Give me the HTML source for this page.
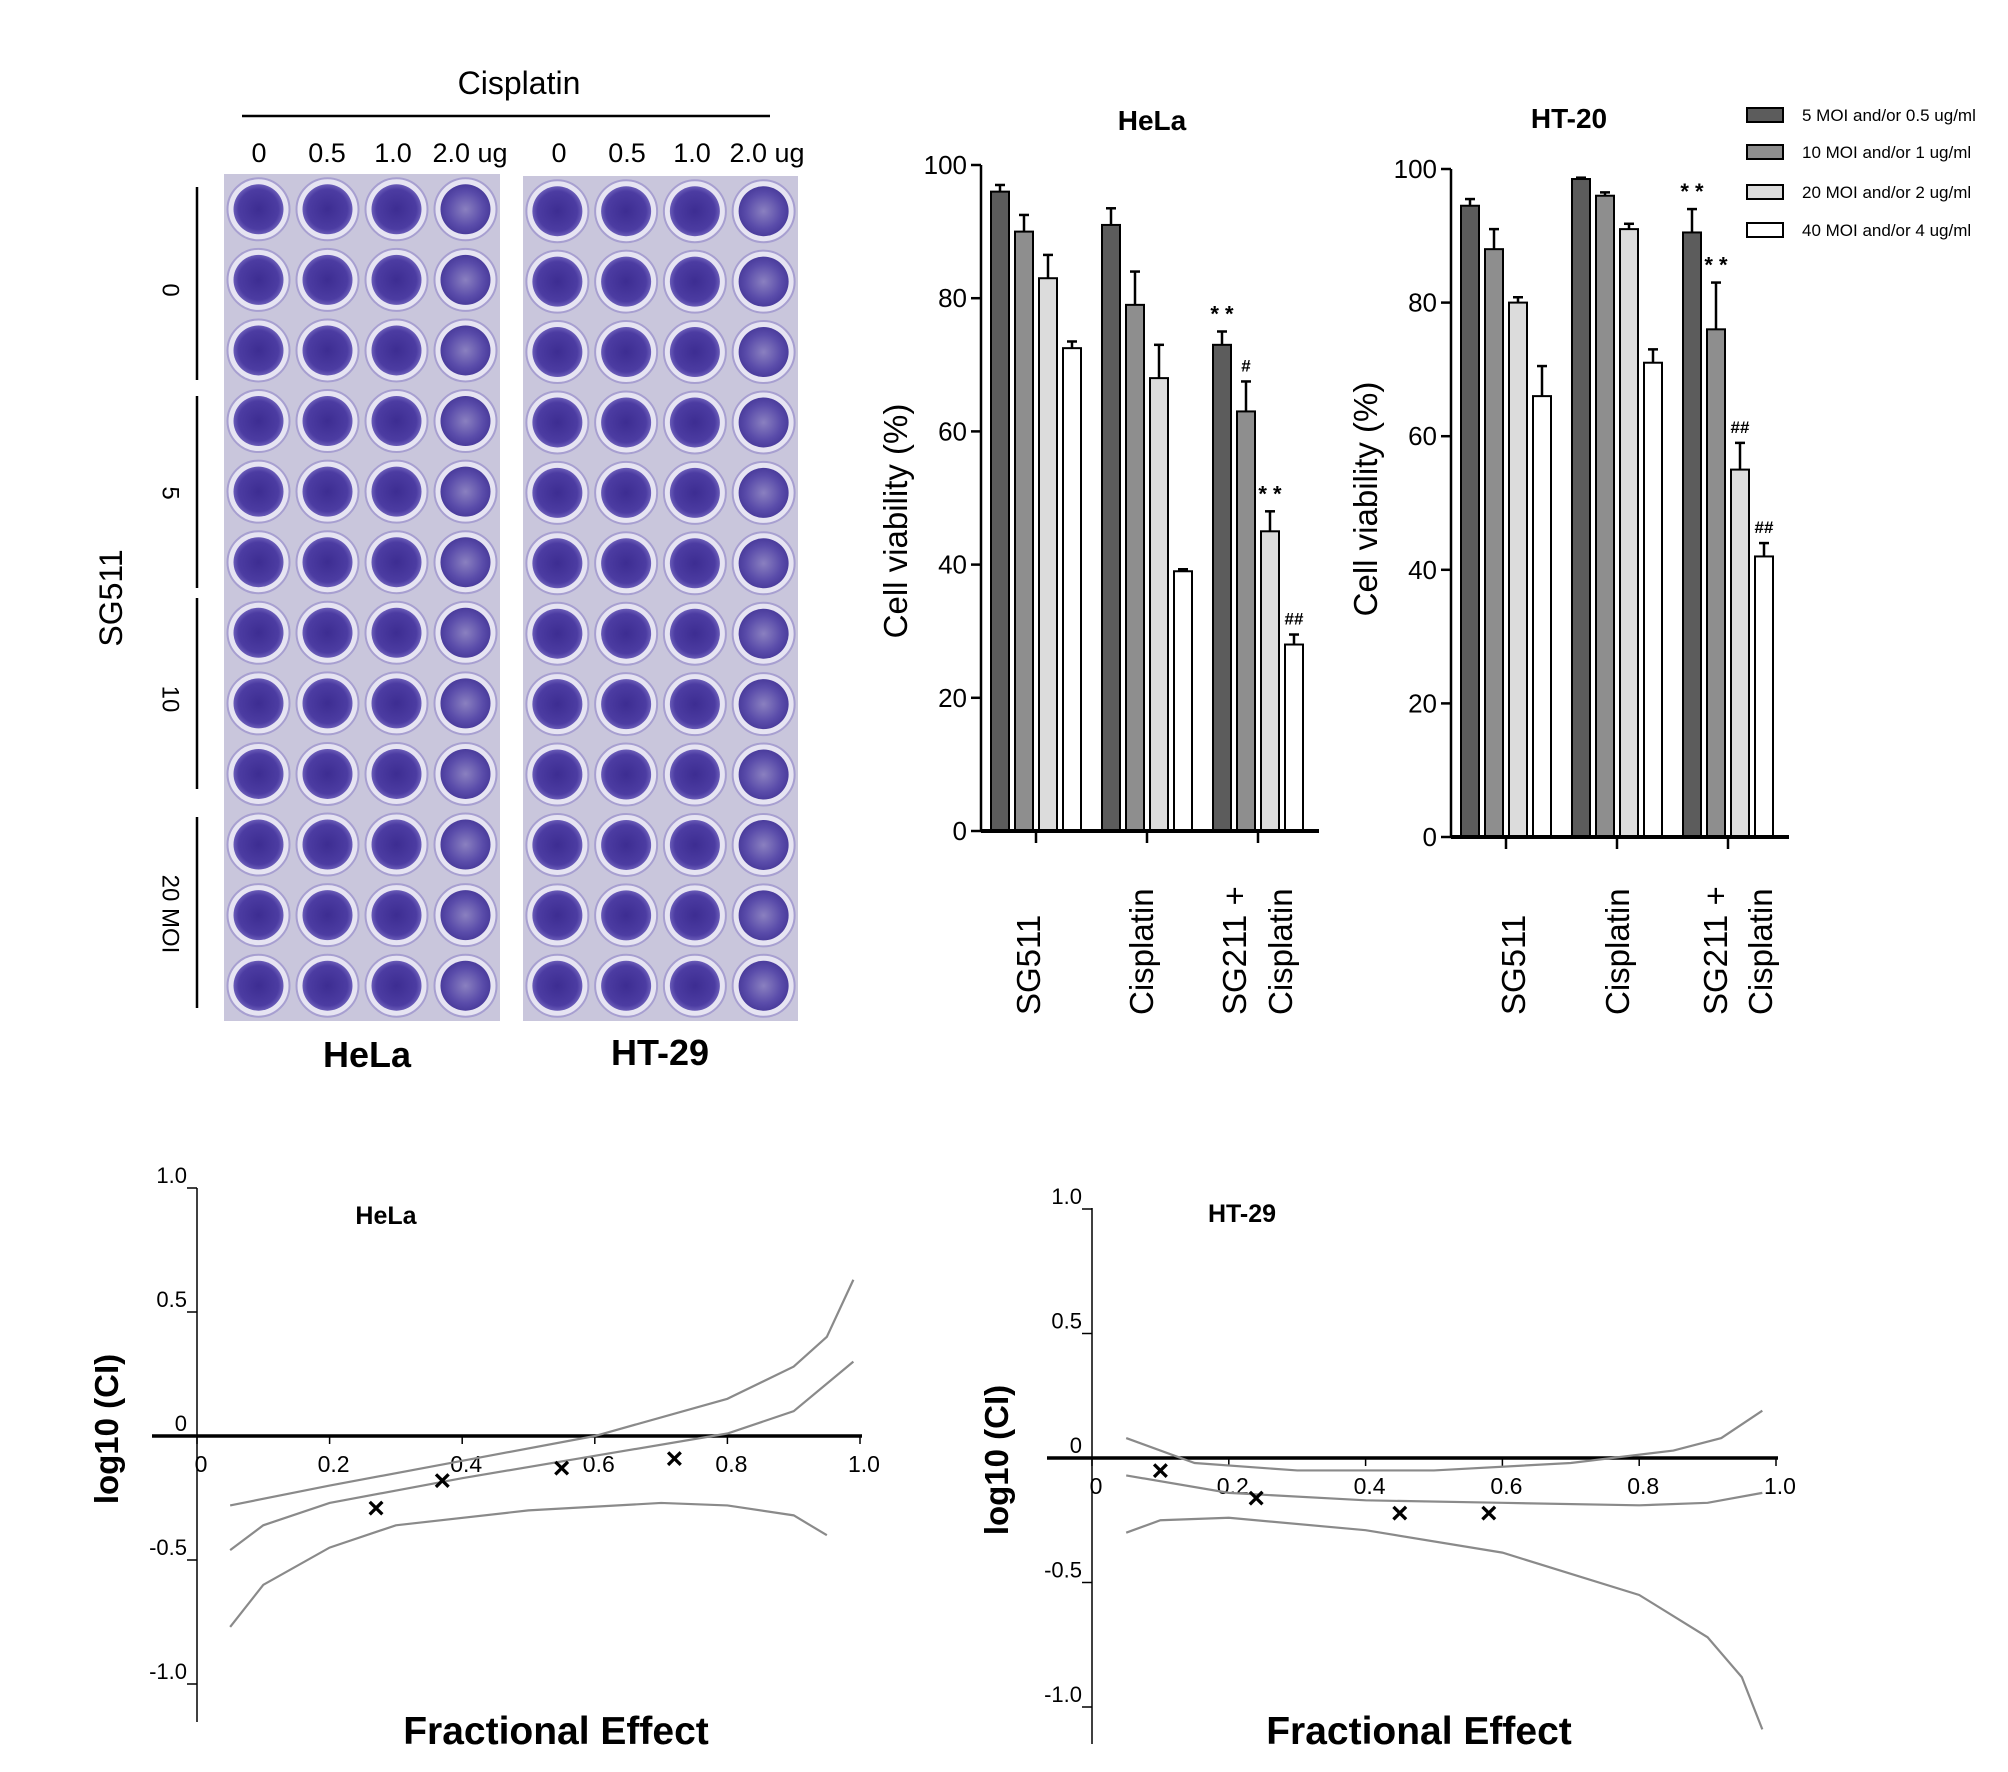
<!DOCTYPE html>
<html><head><meta charset="utf-8">
<style>
body{margin:0;background:#fff;}
svg{display:block;font-family:"Liberation Sans",Arial,sans-serif;}
</style></head>
<body>
<svg id="fig" width="2008" height="1772" viewBox="0 0 2008 1772" xmlns="http://www.w3.org/2000/svg">
<defs>
<radialGradient id="wellA" cx="50%" cy="50%" r="50%"><stop offset="0" stop-color="#3d2d92"/><stop offset="0.8" stop-color="#4c3ca2"/><stop offset="1" stop-color="#6a5cb8"/></radialGradient>
<radialGradient id="wellB" cx="50%" cy="50%" r="50%"><stop offset="0" stop-color="#8a80c0"/><stop offset="0.7" stop-color="#5a4caa"/><stop offset="1" stop-color="#4a3c9c"/></radialGradient>
</defs>
<g id="plates">
<text x="519" y="94" font-size="32" text-anchor="middle">Cisplatin</text>
<line x1="242" y1="116" x2="770" y2="116" stroke="#000" stroke-width="2.5"/>
<text x="122" y="598" font-size="32" text-anchor="middle" transform="rotate(-90 122 598)">SG511</text>
<text x="367" y="1067" font-size="36" font-weight="bold" text-anchor="middle">HeLa</text>
<text x="660" y="1065" font-size="36" font-weight="bold" text-anchor="middle">HT-29</text>
</g>
<g id="bars1"></g>
<g id="bars2"></g>
<g id="legend"></g>
<g id="ci1"></g>
<g id="ci2"></g>
</svg>
<script>
const NS='http://www.w3.org/2000/svg';
function mk(parent,tag,attrs,text){const e=document.createElementNS(NS,tag);for(const k in attrs)e.setAttribute(k,attrs[k]);if(text!==undefined)e.textContent=text;parent.appendChild(e);return e;}

// ---- plate data ----
const doseLabels=['0','0.5','1.0','2.0 ug'];
const moiLabels=['0','5','10','20 MOI'];
const plates=[{x:224,y:174,w:276,h:847},{x:523,y:176,w:275,h:845}];
const pl=document.getElementById('plates');
const doseXs=[[259,327,393,470],[559,627,692,767]];
plates.forEach((p,pi)=>{
  const r=mk(pl,'rect',{x:p.x,y:p.y,width:p.w,height:p.h,fill:'#c9c6dc'});
  
  
  const cw=p.w/4,ch=p.h/12;
  for(let i=0;i<12;i++)for(let j=0;j<4;j++){
    const cx=p.x+cw*(j+0.5),cy=p.y+ch*(i+0.5);
    mk(pl,'circle',{cx:cx,cy:cy,r:31,fill:'#e6e4f2',stroke:'#a79fd0','stroke-width':2});
    const w=mk(pl,'circle',{cx:cx,cy:cy,r:25,fill:(j===3?'url(#wellB)':'url(#wellA)')});
    
    
  }
  doseLabels.forEach((d,k)=>{const t=mk(pl,'text',{x:doseXs[pi][k],y:162,'font-size':27,'text-anchor':'middle'},d);
    });
});
const groupY=[[187,380],[396,588],[598,789],[817,1008]];
const moiY=[290,493,699,914];
groupY.forEach((g,i)=>{
  mk(pl,'line',{x1:197,y1:g[0],x2:197,y2:g[1],stroke:'#000','stroke-width':2.5});
  const t=mk(pl,'text',{x:169,y:moiY[i],'font-size':24,'text-anchor':'middle',transform:`rotate(90 169 ${moiY[i]})`,'dominant-baseline':'middle'},moiLabels[i]);
  
});

// ---- bar chart data ----
const yTicks=[0,20,40,60,80,100];
const seriesNames=['5 MOI and/or 0.5 ug/ml','10 MOI and/or 1 ug/ml','20 MOI and/or 2 ug/ml','40 MOI and/or 4 ug/ml'];
const seriesColors=['#5c5c5c','#8e8e8e','#dcdcdc','#ffffff'];
const helaVals=[[96,90,83,72.5],[91,79,68,39],[73,63,45,28]];
const helaErr=[[97,92.5,86.5,73.5],[93.5,84,73,39.3],[75,67.5,48,29.5]];
const helaMarks=[[],[],['**','#','**','##']];
const htVals=[[94.5,88,80,66],[98.5,96,91,71],[90.5,76,55,42]];
const htErr=[[95.5,91,80.8,70.5],[98.7,96.5,91.8,73],[94,83,59,44]];
const htMarks=[[],[],['**','**','##','##']];

function barChart(gid,o,vals,errs,marks,title){
  const g=document.getElementById(gid);
  const y=v=>o.y0-(v/100)*(o.y0-o.y100);
  const t=mk(g,'text',{x:o.tx,y:o.ty,'font-size':28,'font-weight':'bold','text-anchor':'middle'},title);
  
  const yt=mk(g,'text',{x:o.ytx,y:o.yty,'font-size':33,'text-anchor':'middle',transform:`rotate(-90 ${o.ytx} ${o.yty})`},'Cell viability (%)');
  
  vals.forEach((grp,gi)=>{
    grp.forEach((v,si)=>{
      const bx=o.x0+10+gi*111+si*24;
      const e=errs[gi][si];
      mk(g,'line',{x1:bx+9,y1:y(e),x2:bx+9,y2:y(v),stroke:'#000','stroke-width':2.5});
      mk(g,'line',{x1:bx+4,y1:y(e),x2:bx+14,y2:y(e),stroke:'#000','stroke-width':2.5});
      const b=mk(g,'rect',{x:bx,y:y(v),width:18,height:y(0)-y(v),fill:seriesColors[si],stroke:'#000','stroke-width':2});
      
      const m=marks[gi][si];
      if(m){const mt=mk(g,'text',{x:bx+9,y:y(e)-10,'font-size':m[0]==='*'?22:17,'font-weight':'bold','text-anchor':'middle'},m==='**'?'* *':m);
        }
    });
    const cx=o.x0+10+gi*111+45;
    mk(g,'line',{x1:cx,y1:y(0),x2:cx,y2:y(0)+12,stroke:'#000','stroke-width':2.5});
  });
  mk(g,'line',{x1:o.x0,y1:o.y100,x2:o.x0,y2:y(0),stroke:'#000','stroke-width':2.5});
  mk(g,'line',{x1:o.x0,y1:y(0),x2:o.x1,y2:y(0),stroke:'#000','stroke-width':4});
  yTicks.forEach(v=>{
    mk(g,'line',{x1:o.x0-10,y1:y(v),x2:o.x0,y2:y(v),stroke:'#000','stroke-width':2.5});
    const tl=mk(g,'text',{x:o.x0-14,y:y(v)+9,'font-size':26,'text-anchor':'end'},String(v));
    
  });
  o.xl.forEach(l=>{
    const tl=mk(g,'text',{x:l[0],y:1015,'font-size':33,'text-anchor':'start',transform:`rotate(-90 ${l[0]} 1015)`},l[1]);
    
  });
}
barChart('bars1',{x0:981,x1:1319,y0:831,y100:165,tx:1152,ty:130,ytx:907,yty:521,
  xl:[[1040,'SG511'],[1153,'Cisplatin'],[1246,'SG211 +'],[1292,'Cisplatin']]},helaVals,helaErr,helaMarks,'HeLa');
barChart('bars2',{x0:1451,x1:1789,y0:837,y100:169,tx:1569,ty:128,ytx:1377,yty:499,
  xl:[[1525,'SG511'],[1629,'Cisplatin'],[1727,'SG211 +'],[1772,'Cisplatin']]},htVals,htErr,htMarks,'HT-20');

const lg=document.getElementById('legend');
const legY=[115,152,192,230];
seriesNames.forEach((n,i)=>{
  const r=mk(lg,'rect',{x:1747,y:legY[i]-7,width:36,height:14,fill:seriesColors[i],stroke:'#000','stroke-width':2});
  
  const t=mk(lg,'text',{x:1802,y:legY[i]+6,'font-size':17},n);
  
});

// ---- CI plot data ----
const ciTicksY=[1.0,0.5,0,-0.5,-1.0];
const ciTicksX=[0,0.2,0.4,0.6,0.8,1.0];
const helaUpper=[[0.05,-0.28],[0.2,-0.2],[0.4,-0.1],[0.6,0.0],[0.8,0.15],[0.9,0.28],[0.95,0.4],[0.99,0.63]];
const helaMid=[[0.05,-0.46],[0.1,-0.36],[0.2,-0.27],[0.4,-0.17],[0.6,-0.08],[0.8,0.01],[0.9,0.1],[0.99,0.3]];
const helaLower=[[0.05,-0.77],[0.1,-0.6],[0.2,-0.45],[0.3,-0.36],[0.5,-0.3],[0.7,-0.27],[0.8,-0.28],[0.9,-0.32],[0.95,-0.4]];
const helaPts=[[0.27,-0.29],[0.37,-0.18],[0.55,-0.13],[0.72,-0.09]];
const htUpper=[[0.05,0.08],[0.15,-0.02],[0.3,-0.05],[0.5,-0.05],[0.7,-0.02],[0.85,0.03],[0.92,0.08],[0.98,0.19]];
const htMid=[[0.05,-0.07],[0.2,-0.14],[0.4,-0.17],[0.6,-0.18],[0.8,-0.19],[0.9,-0.18],[0.98,-0.14]];
const htLower=[[0.05,-0.3],[0.1,-0.25],[0.2,-0.24],[0.4,-0.29],[0.6,-0.38],[0.8,-0.55],[0.9,-0.72],[0.95,-0.88],[0.98,-1.09]];
const htPts=[[0.1,-0.05],[0.24,-0.16],[0.45,-0.22],[0.58,-0.22]];

function ciPlot(gid,o,curves,pts,title){
  const g=document.getElementById(gid);
  const X=v=>o.x0+v*(o.x1-o.x0);
  const Y=v=>o.yz-v*o.k;
  mk(g,'line',{x1:o.x0,y1:o.ytop,x2:o.x0,y2:o.ybot,stroke:'#000','stroke-width':1.5});
  mk(g,'line',{x1:o.x0-45,y1:Y(0),x2:X(1)+2,y2:Y(0),stroke:'#000','stroke-width':3.5});
  ciTicksY.forEach(v=>{
    mk(g,'line',{x1:o.x0-10,y1:Y(v),x2:o.x0,y2:Y(v),stroke:'#000','stroke-width':1.5});
    const t=mk(g,'text',{x:o.x0-10,y:Y(v)-5,'font-size':22,'text-anchor':'end'},v===0?'0':v.toFixed(1));
    
  });
  ciTicksX.forEach(v=>{
    mk(g,'line',{x1:X(v),y1:Y(0),x2:X(v),y2:Y(0)+8,stroke:'#000','stroke-width':1.5});
    const t=mk(g,'text',{x:X(v)+4,y:Y(0)+36,'font-size':23,'text-anchor':'middle'},v===0?'0':v.toFixed(1));
    
  });
  curves.forEach(c=>{
    const p=mk(g,'polyline',{points:c.map(q=>X(q[0])+','+Y(q[1])).join(' '),fill:'none',stroke:'#8a8a8a','stroke-width':2.2});
    
  });
  pts.forEach(q=>{
    const t=mk(g,'text',{x:X(q[0]),y:Y(q[1])+10,'font-size':30,'font-weight':'bold','text-anchor':'middle'},'×');
    
  });
  const tt=mk(g,'text',{x:o.tx,y:o.ty,'font-size':25,'font-weight':'bold','text-anchor':'middle'},title);
  
  const yt=mk(g,'text',{x:o.ytx,y:o.yty,'font-size':33,'font-weight':'bold','text-anchor':'middle',transform:`rotate(-90 ${o.ytx} ${o.yty})`},'log10 (CI)');
  
  const xt=mk(g,'text',{x:o.xtx,y:1744,'font-size':39,'font-weight':'bold','text-anchor':'middle'},'Fractional Effect');
  
}
ciPlot('ci1',{x0:197,x1:860,yz:1436,k:248,ytop:1188,ybot:1722,tx:386,ty:1224,ytx:118,yty:1429,xtx:556},[helaUpper,helaMid,helaLower],helaPts,'HeLa');
ciPlot('ci2',{x0:1092,x1:1776,yz:1458,k:249,ytop:1208,ybot:1744,tx:1242,ty:1222,ytx:1008,yty:1460,xtx:1419},[htUpper,htMid,htLower],htPts,'HT-29');
</script>
</body></html>
